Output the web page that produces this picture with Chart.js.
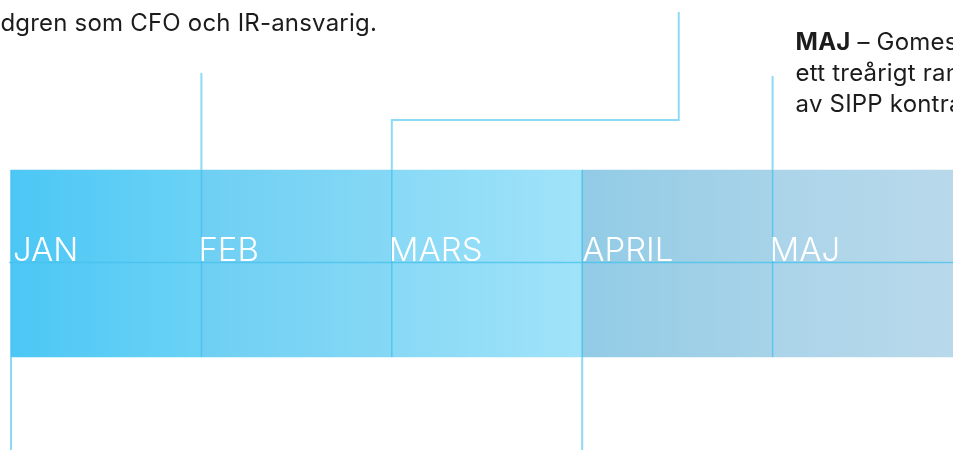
<!DOCTYPE html>
<html>
<head>
<meta charset="utf-8">
<script src="https://cdn.jsdelivr.net/npm/chart.js@4"></script>
<style>
  html, body { margin: 0; padding: 0; background: #fff; }
  #wrap { width: 953px; height: 450px; }
</style>
</head>
<body>
<div id="wrap"><canvas id="timeline" width="953" height="450"></canvas></div>
<script>
// months along the timeline
const months = ['JAN', 'FEB', 'MARS', 'APRIL', 'MAJ'];
// gradient colours of each month block (left -> right)
const colorsFrom = ['#4cc7f5', '#6ecff3', '#88d9f6', '#92cbe6', '#abd4ea'];
const colorsTo = ['#6ad2f5', '#85d8f5', '#a0e3f9', '#a7d3e8', '#b9d9ea'];
// event texts (partly outside the visible area)
const textFeb = ['Lars Lundgren som CFO och IR-ansvarig.'];
const textMaj = ['Gomespace tecknar', 'ett treårigt ramavtal med', 'av SIPP kontrakt'];

// layout (pixels on the y scale, month units on x)
const BAND_TOP = 170, BAND_BOTTOM = 357, BAND_MID = 262.5;
const UNIT = 190.4, LEFT = 11, W = 953, H = 450;
const LINE = '#8ed9f3';
const SEP = 'rgba(70, 192, 236, 0.75)';

const bandData = months.map((m, i) => ({ x: i + 0.5, y: [BAND_TOP, BAND_BOTTOM] }));

function seg(points, color, width) {
  return {
    type: 'line',
    data: points.map(p => ({ x: p[0], y: p[1] })),
    borderColor: color,
    borderWidth: width,
    pointRadius: 0,
    tension: 0,
    fill: false,
    order: 1
  };
}

const connectors = [
  seg([[0, BAND_BOTTOM], [0, H + 5]], LINE, 2),                 // JAN (down)
  seg([[1, 73], [1, BAND_TOP]], LINE, 2),                       // FEB (up)
  seg([[2, BAND_TOP], [2, 120], [3.507, 120], [3.507, 12]], LINE, 2), // MARS
  seg([[3, BAND_BOTTOM], [3, H + 5]], LINE, 2),                 // APRIL (down)
  seg([[4, 76], [4, BAND_TOP]], LINE, 2)                        // MAJ (up)
];
const separators = months.map((m, i) => seg([[i, BAND_TOP], [i, BAND_BOTTOM]], SEP, 1.5));
separators.push(seg([[-0.01, BAND_MID], [6, BAND_MID]], SEP, 1.5));

const textPlugin = {
  id: 'texts',
  afterDraw(chart) {
    const ctx = chart.ctx;
    const xs = chart.scales.x;
    ctx.save();
    // month labels, ink starting at the month line
    ctx.fillStyle = '#ffffff';
    ctx.font = '300 33px Inter';
    ctx.textBaseline = 'alphabetic';
    ctx.textAlign = 'left';
    months.forEach((m, i) => {
      const left = ctx.measureText(m).actualBoundingBoxLeft || 0;
      ctx.fillText(m, xs.getPixelForValue(i) + left + (i === 0 ? 3 : 0), 261);
    });
    // FEB text, right aligned so the start is cut off
    ctx.fillStyle = '#1c1c1c';
    ctx.font = '400 24px Inter';
    ctx.letterSpacing = '0.2px';
    ctx.textAlign = 'right';
    textFeb.forEach((t, i) => ctx.fillText(t, 377, 31 + i * 31));
    // MAJ text
    ctx.textAlign = 'left';
    const mx = xs.getPixelForValue(4) + 23;
    ctx.font = '700 24px Inter';
    ctx.fillText('MAJ', mx, 50);
    const bw = ctx.measureText('MAJ').width;
    ctx.font = '400 24px Inter';
    ctx.fillText(' – ' + textMaj[0], mx + bw, 50);
    for (let i = 1; i < textMaj.length; i++) {
      ctx.fillText(textMaj[i], mx, 50 + i * 31);
    }
    ctx.restore();
  }
};

new Chart(document.getElementById('timeline'), {
  type: 'bar',
  data: {
    datasets: [
      ...separators,
      ...connectors,
      {
        type: 'bar',
        data: bandData,
        order: 10,
        categoryPercentage: 1,
        barPercentage: 1,
        borderWidth: 0,
        backgroundColor: (c) => {
          const chart = c.chart;
          if (!chart.chartArea || c.dataIndex === undefined) return colorsFrom[0];
          const xs = chart.scales.x;
          const x0 = xs.getPixelForValue(c.dataIndex);
          const x1 = xs.getPixelForValue(c.dataIndex + 1);
          const g = chart.ctx.createLinearGradient(x0, 0, x1, 0);
          g.addColorStop(0, colorsFrom[c.dataIndex]);
          g.addColorStop(1, colorsTo[c.dataIndex]);
          return g;
        }
      }
    ]
  },
  options: {
    responsive: false,
    animation: false,
    layout: { padding: 0 },
    plugins: { legend: { display: false }, tooltip: { enabled: false } },
    scales: {
      x: { type: 'linear', display: false, offset: false, min: -LEFT / UNIT, max: (W - LEFT) / UNIT },
      y: { type: 'linear', display: false, reverse: true, min: 0, max: H }
    }
  },
  plugins: [textPlugin]
});
</script>
</body>
</html>
